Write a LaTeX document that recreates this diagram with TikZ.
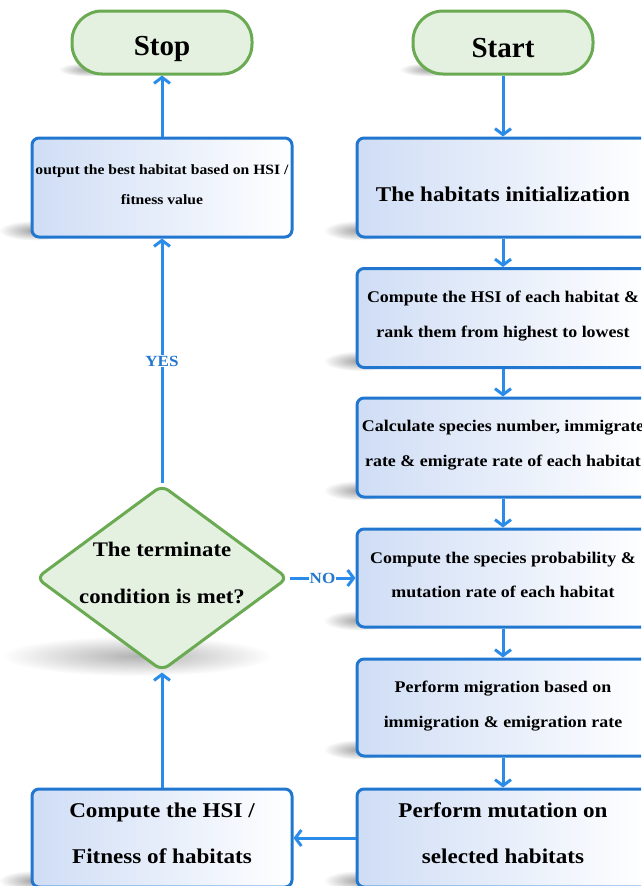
\documentclass[tikz,border=0pt]{standalone}
\usepackage{fontspec}
\setmainfont{Liberation Serif}[FakeStretch=1.1]
\newfontfamily\termfont{Liberation Serif}
\usetikzlibrary{shapes.geometric,arrows.meta,fadings}
\definecolor{boxline}{HTML}{2177D0}
\definecolor{arrowc}{HTML}{2B8BE8}
\definecolor{boxfill}{HTML}{CFDDF5}
\definecolor{gline}{HTML}{6AAA52}
\definecolor{gfill}{HTML}{E4F1E0}
\definecolor{lblc}{HTML}{2277CC}
\tikzfading[name=softfade, inner color=transparent!0, outer color=transparent!100]
\pgfdeclarelayer{bg}
\pgfsetlayers{bg,main}
\begin{document}
\begin{tikzpicture}[x=1pt,y=-1pt,
  procbox/.style={draw=boxline, line width=3pt, rounded corners=7pt, left color=boxfill, right color=white, inner sep=0pt},
  rbox/.style={procbox, minimum width=292pt, minimum height=99pt},
  lbox/.style={procbox, minimum width=260pt, minimum height=99pt},
  txt/.style={align=center, inner sep=0pt},
  term/.style={draw=gline, line width=3pt, fill=gfill, rounded corners=30pt, minimum width=180pt, minimum height=63pt, inner sep=0pt},
  termtxt/.style={inner sep=0pt, font=\termfont\fontsize{29}{32}\selectfont\bfseries},
  decision/.style={diamond, draw=gline, line width=3pt, fill=gfill, rounded corners=8pt, minimum width=252pt, minimum height=186pt, aspect=1.355, inner sep=0pt},
  arr/.style={draw=arrowc, line width=3pt, -{Straight Barb[length=6pt,width=16pt,line width=3pt]}},
  lbl/.style={fill=white, inner sep=1pt, text=lblc, font=\fontsize{15.5}{15.5}\selectfont\bfseries},
  shad/.style={fill=gray!75, path fading=softfade}
]
\useasboundingbox (0,0) rectangle (641,886);
\begin{scope}
\clip (0,0) rectangle (641,886);
\node[term] (stop) at (162,42.5) {};
\node[termtxt] (stop-t) at ([yshift=-6pt]stop.center) {Stop};
\node[term] (start) at (503,42.5) {};
\node[termtxt] (start-t) at ([yshift=-6pt]start.center) {Start};

\node[lbox] (out) at (162,187.5) {};
\node[txt, font=\fontsize{14.2}{30}\selectfont\bfseries] (out-t) at ([yshift=3pt]out.center) {output the best habitat based on HSI /\\fitness value};
\node[rbox] (init) at (503,187.5) {};
\node[txt, font=\fontsize{21}{24}\selectfont\bfseries] (init-t) at ([yshift=-7pt]init.center) {The habitats initialization};
\node[rbox] (hsi) at (503,318) {};
\node[txt, font=\fontsize{16.3}{35}\selectfont\bfseries] (hsi-t) at ([yshift=2pt]hsi.center) {Compute the HSI of each habitat \&\\rank them from highest to lowest};
\node[rbox] (calc) at (503,447.5) {};
\node[txt, font=\fontsize{16.3}{35}\selectfont\bfseries] (calc-t) at ([yshift=2pt]calc.center) {Calculate species number, immigrate\\rate \& emigrate rate of each habitat};
\node[rbox, minimum height=98pt] (prob) at (503,578) {};
\node[txt, font=\fontsize{16.3}{34}\selectfont\bfseries] (prob-t) at ([yshift=3pt]prob.center) {Compute the species probability \&\\mutation rate of each habitat};
\node[rbox, minimum height=97pt] (mig) at (503,707.5) {};
\node[txt, font=\fontsize{16.3}{35}\selectfont\bfseries] (mig-t) at ([yshift=1pt]mig.center) {Perform migration based on\\immigration \& emigration rate};
\node[rbox, minimum height=98pt] (mut) at (503,838) {};
\node[txt, font=\fontsize{21}{46}\selectfont\bfseries] (mut-t) at ([yshift=5pt]mut.center) {Perform mutation on\\selected habitats};
\node[lbox, minimum height=98pt] (fit) at (162,838) {};
\node[txt, font=\fontsize{21}{46}\selectfont\bfseries] (fit-t) at ([yshift=5pt]fit.center) {Compute the HSI /\\Fitness of habitats};
\node[decision] (dec) at (162,578) {};
\node[txt, font=\fontsize{20.7}{47}\selectfont\bfseries] (dec-t) at ([yshift=5pt]dec.center) {The terminate\\condition is met?};

\draw[arr] (start) -- (init);
\draw[arr] (init) -- (hsi);
\draw[arr] (hsi) -- (calc);
\draw[arr] (calc) -- (prob);
\draw[arr] (prob) -- (mig);
\draw[arr] (mig) -- (mut);
\draw[arr] (mut.west) -- (fit.east);
\draw[arr] (fit) -- (dec);
\draw[arr] (dec) -- node[lbl] {YES} (out);
\draw[arr] (out) -- (stop);
\draw[arr] (dec.east) -- node[lbl] {NO} (prob.west);
\end{scope}

\begin{pgfonlayer}{bg}
\clip (0,0) rectangle (641,886);
\foreach \n in {out,init,hsi,calc,prob,mig,mut,fit}
  \fill[shad] ([xshift=4pt,yshift=8pt]\n.south west) ellipse [x radius=36pt, y radius=10pt];
\foreach \n in {stop,start}
  \fill[shad] ([xshift=18pt,yshift=6pt]\n.south west) ellipse [x radius=30pt, y radius=7pt];
\fill[shad, fill=gray!60] ([yshift=-78pt,xshift=-25pt]dec.center) ellipse [x radius=135pt, y radius=20pt];
\end{pgfonlayer}
\end{tikzpicture}
\end{document}
